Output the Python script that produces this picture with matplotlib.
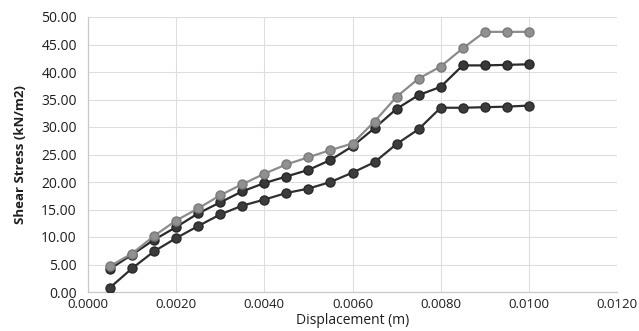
import matplotlib
matplotlib.use("Agg")
import matplotlib.pyplot as plt
from matplotlib.ticker import FormatStrFormatter, MultipleLocator

plt.rcParams['font.family'] = ['Open Sans', 'DejaVu Sans']

# Displacement steps (m)
displacement = [0.0005, 0.0010, 0.0015, 0.0020, 0.0025, 0.0030, 0.0035, 0.0040,
                0.0045, 0.0050, 0.0055, 0.0060, 0.0065, 0.0070, 0.0075, 0.0080,
                0.0085, 0.0090, 0.0095, 0.0100]

# Shear stress (kN/m2) for the three tests
stress_high = [4.7, 7.0, 10.2, 13.0, 15.2, 17.6, 19.6, 21.5, 23.2, 24.5,
               25.8, 27.0, 31.0, 35.5, 38.8, 41.0, 44.3, 47.3, 47.3, 47.3]
stress_mid = [4.2, 6.8, 9.5, 11.8, 14.3, 16.3, 18.3, 19.8, 21.0, 22.2,
              24.0, 26.5, 29.8, 33.3, 35.8, 37.3, 41.2, 41.2, 41.3, 41.4]
stress_low = [0.8, 4.3, 7.4, 9.8, 12.0, 14.1, 15.7, 16.8, 18.0, 18.8,
              20.0, 21.7, 23.6, 26.9, 29.6, 33.5, 33.5, 33.6, 33.7, 33.9]

fig = plt.figure(figsize=(6.39, 3.31), dpi=100)
ax = fig.add_axes([88/639, 1 - 292/331, (617 - 88)/639, (292 - 17)/331])

ax.plot(displacement, stress_low, color='#2f2f2f', lw=1.6, marker='o', ms=6.5,
        mfc='#3c3c3c', mec='#2a2a2a', zorder=3)
ax.plot(displacement, stress_mid, color='#2a2a2a', lw=1.6, marker='o', ms=6.5,
        mfc='#383838', mec='#262626', zorder=3)
ax.plot(displacement, stress_high, color='#8c8c8c', lw=1.6, marker='o', ms=6.5,
        mfc='#909090', mec='#7a7a7a', zorder=4)

ax.set_xlim(0, 0.012)
ax.set_ylim(0, 50)
ax.xaxis.set_major_locator(MultipleLocator(0.002))
ax.yaxis.set_major_locator(MultipleLocator(5))
ax.xaxis.set_major_formatter(FormatStrFormatter('%.4f'))
ax.yaxis.set_major_formatter(FormatStrFormatter('%.2f'))

ax.grid(True, color='#dedede', lw=0.8)
ax.set_axisbelow(True)
for side in ['top', 'right']:
    ax.spines[side].set_visible(False)
for side in ['left', 'bottom']:
    ax.spines[side].set_color('#c8c8c8')
    ax.spines[side].set_linewidth(0.9)

ax.tick_params(axis='y', length=0, labelsize=10, colors='#1e1e1e', pad=8)
ax.tick_params(axis='x', length=0, labelsize=9.5, colors='#1e1e1e', pad=4)

ax.set_xlabel('Displacement (m)', fontsize=10, color='#1e1e1e', labelpad=2)
ax.set_ylabel('Shear Stress (kN/m2)', fontsize=9.5, fontweight='bold',
              color='#1e1e1e', labelpad=10)

fig.savefig('out.png', dpi=100, facecolor='white')
